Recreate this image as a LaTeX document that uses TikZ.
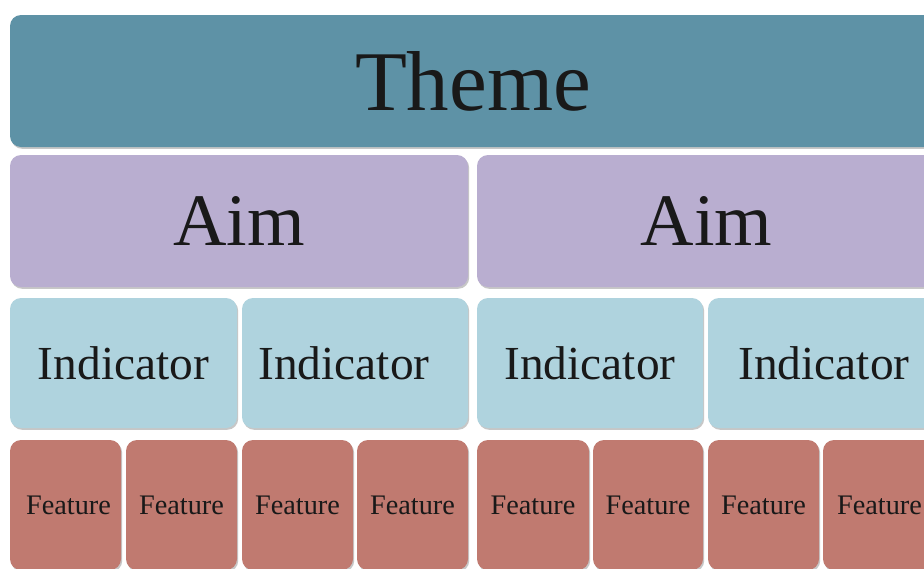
\documentclass[tikz,border=0pt]{standalone}
\usepackage{fontspec}
\setmainfont{Liberation Serif}
\usetikzlibrary{shadows}
\definecolor{themec}{HTML}{5E92A6}
\definecolor{aimc}{HTML}{B9AED0}
\definecolor{indc}{HTML}{AFD3DE}
\definecolor{featc}{HTML}{C07A70}
\tikzset{
  box/.style={rounded corners=11pt, inner sep=0pt, text=black!90,
    drop shadow={shadow xshift=1.2pt, shadow yshift=-1.8pt, fill=black!40, opacity=0.55}},
  themebox/.style={box, fill=themec, font=\fontsize{85}{90}\selectfont},
  aimbox/.style={box, fill=aimc, font=\fontsize{74}{80}\selectfont},
  indbox/.style={box, fill=indc, font=\fontsize{47.4}{52}\selectfont},
  featbox/.style={box, fill=featc, font=\fontsize{28.3}{32}\selectfont},
}
\begin{document}
\begin{tikzpicture}[x=1pt,y=-1pt]
\useasboundingbox (0,0) rectangle (924,568);
\clip (0,0) rectangle (924,568);
\fill[white] (0,0) rectangle (924,568);
% Theme
\node[themebox, minimum width=926pt, minimum height=132pt] (theme) at (473,81) {Theme};
% Aims
\node[aimbox, minimum width=458pt, minimum height=132pt] (aim1) at (239,221) {Aim};
\node[aimbox, minimum width=459pt, minimum height=132pt] (aim2) at (706.5,221) {Aim};
% Indicators
\node[indbox, minimum width=227pt, minimum height=130pt] (ind1) at (123.5,363) {Indicator};
\node[indbox, minimum width=226pt, minimum height=130pt] (ind2) at (355,363) {\hspace*{-22pt}Indicator};
\node[indbox, minimum width=226pt, minimum height=130pt] (ind3) at (590,363) {Indicator};
\node[indbox, minimum width=228pt, minimum height=130pt] (ind4) at (822,363) {\hspace*{4pt}Indicator};
% Features
\node[featbox, minimum width=111pt, minimum height=130pt] (f1) at (65.5,505) {\hspace*{6pt}Feature};
\node[featbox, minimum width=111pt, minimum height=130pt] (f2) at (181.5,505) {Feature};
\node[featbox, minimum width=111pt, minimum height=130pt] (f3) at (297.5,505) {Feature};
\node[featbox, minimum width=111pt, minimum height=130pt] (f4) at (412.5,505) {Feature};
\node[featbox, minimum width=112pt, minimum height=130pt] (f5) at (533,505) {Feature};
\node[featbox, minimum width=110pt, minimum height=130pt] (f6) at (648,505) {Feature};
\node[featbox, minimum width=111pt, minimum height=130pt] (f7) at (763.5,505) {Feature};
\node[featbox, minimum width=113pt, minimum height=130pt] (f8) at (879.5,505) {Feature};
\end{tikzpicture}
\end{document}
